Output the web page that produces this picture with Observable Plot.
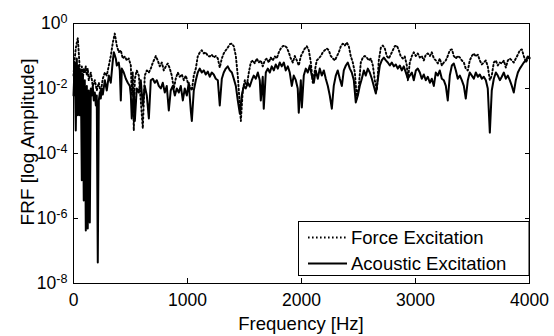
<!DOCTYPE html>
<html><head><meta charset="utf-8">
<script src="https://cdn.jsdelivr.net/npm/d3@7"></script>
<script src="https://cdn.jsdelivr.net/npm/@observablehq/plot@0.6"></script>
<style>
html,body{margin:0;padding:0;background:#fff;}
#chart{width:554px;height:336px;}
</style></head><body><div id="chart"></div>
<script>
// [frequency Hz, amplitude]
const forceExcitation = [[0,0.025],[11,0.084],[20,0.17],[29,0.26],[38,0.35],[46,0.13],[55,0.041],[64,0.012],[73,0.048],[82,0.020],[90,0.041],[99,0.031],[108,0.048],[117,0.025],[125,0.041],[134,0.018],[152,0.031],[169,0.012],[187,0.018],[204,0.0087],[222,0.015],[239,0.0075],[257,0.020],[275,0.031],[292,0.025],[310,0.051],[327,0.10],[345,0.26],[362,0.49],[380,0.21],[397,0.13],[415,0.15],[432,0.084],[450,0.097],[468,0.073],[485,0.084],[503,0.051],[511,0.0061],[520,0.031],[529,0.00051],[538,0.020],[555,0.036],[573,0.025],[590,0.0043],[608,0.00059],[625,0.025],[643,0.036],[661,0.031],[678,0.041],[696,0.063],[713,0.084],[722,0.10],[739,0.073],[757,0.048],[775,0.063],[792,0.036],[810,0.048],[827,0.059],[845,0.041],[862,0.025],[880,0.010],[897,0.020],[915,0.031],[932,0.023],[950,0.027],[968,0.018],[985,0.025],[1003,0.015],[1020,0.012],[1038,0.0087],[1055,0.025],[1073,0.041],[1090,0.097],[1108,0.13],[1125,0.15],[1143,0.12],[1160,0.13],[1178,0.10],[1195,0.097],[1213,0.11],[1230,0.090],[1248,0.10],[1266,0.084],[1283,0.044],[1301,0.084],[1318,0.12],[1336,0.15],[1353,0.18],[1371,0.23],[1389,0.24],[1406,0.20],[1424,0.10],[1441,0.025],[1459,0.0030],[1468,0.0010],[1485,0.0087],[1503,0.018],[1520,0.012],[1538,0.031],[1555,0.063],[1573,0.073],[1590,0.059],[1608,0.084],[1625,0.063],[1643,0.073],[1660,0.048],[1678,0.073],[1695,0.084],[1713,0.063],[1730,0.090],[1748,0.073],[1766,0.097],[1783,0.084],[1801,0.13],[1818,0.17],[1836,0.20],[1853,0.21],[1871,0.18],[1888,0.13],[1906,0.084],[1924,0.063],[1941,0.10],[1959,0.073],[1976,0.051],[1994,0.097],[2011,0.13],[2029,0.17],[2046,0.20],[2064,0.15],[2082,0.063],[2099,0.015],[2117,0.036],[2134,0.073],[2152,0.084],[2169,0.10],[2187,0.13],[2204,0.15],[2222,0.17],[2239,0.15],[2257,0.10],[2275,0.084],[2292,0.073],[2310,0.097],[2327,0.13],[2345,0.20],[2362,0.24],[2380,0.21],[2397,0.26],[2415,0.20],[2432,0.10],[2450,0.063],[2468,0.031],[2485,0.0049],[2503,0.012],[2520,0.063],[2538,0.090],[2555,0.10],[2573,0.090],[2590,0.073],[2608,0.084],[2626,0.051],[2643,0.018],[2661,0.0087],[2678,0.073],[2696,0.18],[2713,0.21],[2731,0.17],[2748,0.10],[2766,0.084],[2783,0.11],[2801,0.15],[2818,0.20],[2836,0.21],[2854,0.15],[2871,0.097],[2889,0.084],[2906,0.097],[2924,0.051],[2933,0.018],[2950,0.063],[2968,0.10],[2985,0.13],[3003,0.10],[3020,0.12],[3038,0.090],[3055,0.10],[3073,0.073],[3090,0.11],[3108,0.12],[3126,0.10],[3143,0.13],[3161,0.084],[3178,0.073],[3196,0.059],[3213,0.084],[3231,0.051],[3248,0.063],[3266,0.073],[3283,0.10],[3301,0.15],[3319,0.16],[3336,0.10],[3354,0.084],[3371,0.10],[3389,0.090],[3406,0.073],[3424,0.063],[3441,0.041],[3459,0.036],[3476,0.073],[3494,0.10],[3512,0.12],[3529,0.097],[3547,0.11],[3564,0.073],[3582,0.055],[3599,0.063],[3617,0.073],[3634,0.048],[3652,0.018],[3669,0.025],[3687,0.063],[3705,0.073],[3722,0.051],[3740,0.063],[3757,0.059],[3775,0.073],[3792,0.044],[3810,0.073],[3827,0.084],[3845,0.073],[3862,0.063],[3880,0.084],[3898,0.11],[3915,0.15],[3933,0.16],[3950,0.10],[3968,0.063],[3985,0.084],[4000,0.090]];

const acousticExcitation = [[0,0.0061],[11,0.063],[20,0.00051],[29,0.084],[38,0.0015],[46,0.051],[55,0.0015],[64,0.036],[73,1.5e-5],[82,0.025],[90,3.6e-6],[99,0.018],[108,4.3e-7],[117,0.012],[125,4.9e-7],[134,0.0087],[143,7.5e-7],[152,0.010],[161,0.0061],[169,0.012],[178,0.0043],[187,0.0075],[196,0.0030],[204,0.0061],[213,4.4e-8],[222,0.0043],[231,0.0075],[239,0.0049],[248,0.010],[257,0.0065],[275,0.018],[292,0.0087],[310,0.025],[327,0.015],[345,0.073],[354,0.13],[371,0.084],[380,0.051],[397,0.063],[406,0.036],[415,0.0043],[424,0.041],[441,0.031],[459,0.020],[476,0.015],[494,0.012],[503,0.0061],[511,0.0012],[529,0.0087],[538,0.0010],[555,0.010],[573,0.0075],[590,0.018],[608,0.0030],[625,0.012],[643,0.0061],[661,0.0012],[678,0.018],[696,0.020],[713,0.015],[731,0.018],[748,0.012],[766,0.010],[783,0.015],[801,0.0075],[818,0.012],[836,0.0021],[853,0.0087],[871,0.012],[889,0.0061],[906,0.010],[924,0.0075],[941,0.012],[959,0.0043],[976,0.010],[994,0.0061],[1011,0.015],[1029,0.0021],[1038,0.0010],[1055,0.0087],[1073,0.018],[1090,0.031],[1108,0.041],[1125,0.031],[1143,0.036],[1160,0.027],[1178,0.033],[1195,0.023],[1213,0.031],[1230,0.027],[1248,0.020],[1266,0.018],[1283,0.0030],[1301,0.020],[1318,0.031],[1336,0.041],[1353,0.048],[1371,0.036],[1389,0.031],[1406,0.020],[1424,0.012],[1441,0.0043],[1459,0.0017],[1476,0.0061],[1494,0.012],[1511,0.010],[1529,0.015],[1546,0.0115],[1564,0.018],[1581,0.025],[1599,0.020],[1617,0.031],[1634,0.018],[1643,0.0043],[1660,0.023],[1669,0.0024],[1687,0.031],[1704,0.041],[1722,0.031],[1739,0.048],[1757,0.036],[1774,0.055],[1792,0.041],[1809,0.063],[1827,0.048],[1845,0.063],[1862,0.036],[1880,0.048],[1897,0.031],[1915,0.012],[1932,0.025],[1950,0.018],[1967,0.010],[1976,0.0018],[1994,0.018],[2003,0.0026],[2020,0.025],[2038,0.041],[2055,0.031],[2073,0.051],[2090,0.025],[2108,0.015],[2125,0.036],[2143,0.020],[2160,0.041],[2178,0.025],[2196,0.036],[2213,0.020],[2231,0.012],[2248,0.0061],[2266,0.0024],[2283,0.012],[2301,0.025],[2318,0.036],[2336,0.020],[2354,0.012],[2371,0.036],[2389,0.051],[2406,0.063],[2424,0.041],[2441,0.031],[2459,0.018],[2476,0.0037],[2494,0.0061],[2511,0.012],[2529,0.020],[2547,0.036],[2564,0.025],[2582,0.041],[2599,0.031],[2617,0.020],[2634,0.012],[2652,0.0070],[2669,0.018],[2687,0.051],[2704,0.073],[2722,0.090],[2740,0.073],[2757,0.063],[2775,0.051],[2792,0.063],[2810,0.048],[2827,0.055],[2845,0.041],[2862,0.051],[2880,0.036],[2897,0.048],[2915,0.031],[2933,0.020],[2950,0.025],[2968,0.031],[2985,0.018],[3003,0.036],[3020,0.041],[3038,0.031],[3055,0.020],[3073,0.027],[3090,0.018],[3108,0.023],[3126,0.015],[3143,0.020],[3161,0.012],[3178,0.031],[3196,0.025],[3213,0.036],[3231,0.020],[3248,0.018],[3266,0.012],[3283,0.0043],[3301,0.025],[3319,0.051],[3336,0.059],[3354,0.036],[3371,0.020],[3389,0.025],[3406,0.018],[3424,0.012],[3441,0.0049],[3459,0.018],[3476,0.031],[3494,0.025],[3512,0.020],[3529,0.031],[3547,0.023],[3564,0.027],[3582,0.020],[3599,0.023],[3617,0.018],[3634,0.010],[3652,0.00044],[3669,0.0087],[3687,0.020],[3705,0.031],[3722,0.025],[3740,0.018],[3757,0.023],[3775,0.031],[3792,0.020],[3810,0.025],[3827,0.018],[3845,0.012],[3862,0.0075],[3880,0.018],[3898,0.031],[3915,0.041],[3933,0.051],[3950,0.063],[3968,0.073],[3985,0.097],[4000,0.084]];

const xTicks = [0, 1000, 2000, 3000, 4000];
const yTicks = [1e-8, 1e-6, 1e-4, 1e-2, 1];
const seriesNames = ["Force Excitation", "Acoustic Excitation"];
const xLabel = "Frequency [Hz]";
const yLabel = "FRF [log Amplitude]";

const FONT = '"Liberation Sans", Arial, Helvetica, sans-serif';
const toRows = arr => arr.map(([f, a]) => ({f, a}));
const DOT = "1.6 2.4";

const svg = Plot.plot({
  width: 554, height: 336,
  marginTop: 23, marginRight: 25, marginBottom: 53, marginLeft: 73,
  style: {fontFamily: FONT, fontSize: "17.5px", background: "#fff", color: "#000"},
  x: {domain: [0, 4000]},
  y: {type: "log", domain: [1e-8, 1]},
  marks: [
    Plot.line(toRows(forceExcitation), {x: "f", y: "a", stroke: "#000", strokeWidth: 1.9, strokeDasharray: DOT}),
    Plot.line(toRows(acousticExcitation), {x: "f", y: "a", stroke: "#000", strokeWidth: 2}),
    Plot.frame({stroke: "#000", strokeWidth: 1}),
    Plot.axisX(xTicks, {anchor: "bottom", tickSize: -5, tickPadding: 15, label: null, tickFormat: d => String(d)}),
    Plot.axisX(xTicks, {anchor: "top", tickSize: -5, tickFormat: () => "", label: null}),
    Plot.axisY(yTicks, {anchor: "left", tickSize: -5, tickPadding: 11, label: null,
      tickFormat: d => "10^" + Math.round(Math.log10(d))}),
    Plot.axisY(yTicks, {anchor: "right", tickSize: -5, tickFormat: () => "", label: null})
  ]
});

const s = d3.select(svg);
// superscript exponents
s.selectAll("text").each(function() {
  const t = d3.select(this);
  const str = t.text();
  if (!str.includes("^")) return;
  const [b, e] = str.split("^");
  t.text(b);
  t.append("tspan").attr("dy", "-0.5em").attr("font-size", "0.72em").text(e);
});

// axis labels
s.append("text").attr("x", 301).attr("y", 330).attr("text-anchor", "middle")
  .attr("font-family", FONT).attr("font-size", 18.5).attr("fill", "#000").text(xLabel);
s.append("text").attr("transform", "translate(34,142) rotate(-90)").attr("text-anchor", "middle")
  .attr("font-family", FONT).attr("font-size", 19).attr("fill", "#000").text(yLabel);

// legend
const lg = s.append("g").attr("font-family", FONT).attr("font-size", 18.5).attr("text-anchor", "start");
lg.append("rect").attr("x", 298.5).attr("y", 221.5).attr("width", 230.5).attr("height", 54)
  .attr("fill", "#fff").attr("stroke", "#000").attr("stroke-width", 1);
const styles = [{dash: DOT, w: 1.9}, {dash: null, w: 2}];
seriesNames.forEach((name, i) => {
  const cy = 237.5 + i * 26;
  lg.append("line").attr("x1", 308).attr("x2", 347).attr("y1", cy).attr("y2", cy)
    .attr("stroke", "#000").attr("stroke-width", styles[i].w)
    .attr("stroke-dasharray", styles[i].dash);
  lg.append("text").attr("x", 351).attr("y", cy).attr("dy", "0.36em")
    .attr("text-anchor", "start").attr("fill", "#000").text(name);
});

document.getElementById("chart").appendChild(svg);
</script>
</body></html>
